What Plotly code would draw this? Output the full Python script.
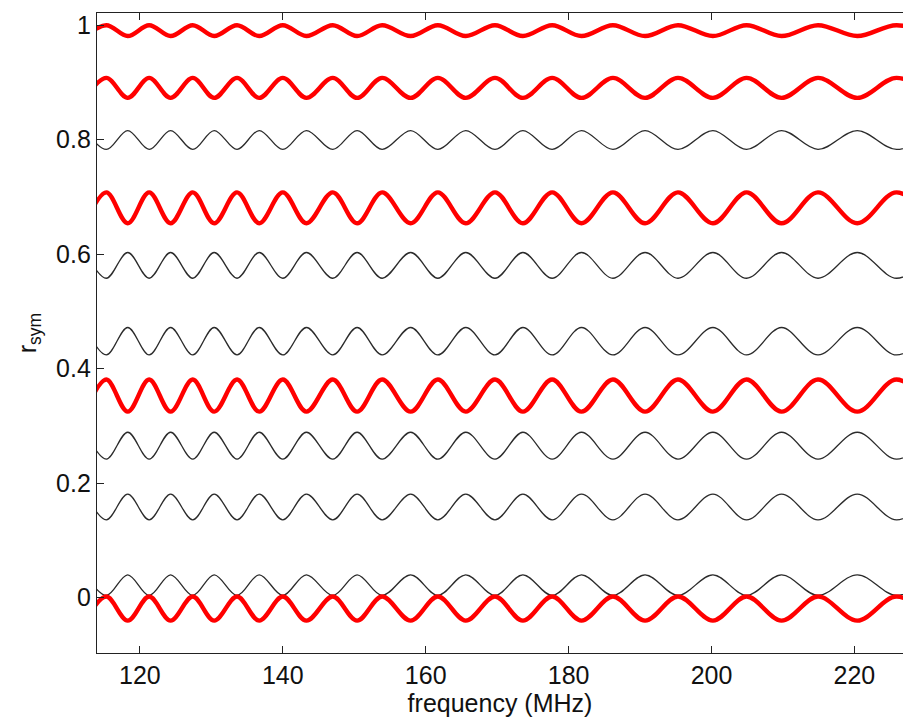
import plotly.graph_objects as go

# Frequencies (MHz) where the ripple turns: alternating minimum / maximum of the red traces
extrema_mhz = [112.4, 115.3, 118.3, 121.3, 124.3, 127.4, 130.4, 133.6, 136.7, 140.0,
               143.3, 147.0, 150.4, 153.9, 157.9, 161.7, 165.6, 169.7, 173.6, 177.7,
               181.8, 186.2, 190.7, 195.3, 200.2, 204.9, 209.8, 214.9, 220.4, 225.9, 231.5]

# Upper / lower levels of each ripple trace
red_high = [1.000, 0.908, 0.708, 0.381, 0.002]
red_low = [0.981, 0.873, 0.654, 0.325, -0.040]
black_high = [0.816, 0.603, 0.472, 0.289, 0.181, 0.040]
black_low = [0.783, 0.558, 0.424, 0.242, 0.136, 0.004]

x_ticks = [120, 140, 160, 180, 200, 220]
y_ticks = [0, 0.2, 0.4, 0.6, 0.8, 1]
y_tick_text = ["0", "0.2", "0.4", "0.6", "0.8", "1"]


def ripple(high, low, starts_low):
    ys = []
    for i in range(len(extrema_mhz)):
        at_low = (i % 2 == 0) == starts_low
        ys.append(low if at_low else high)
    return ys


fig = go.Figure()

# thin dark traces (opposite phase to the red ones)
for hi, lo in zip(black_high, black_low):
    fig.add_trace(go.Scatter(
        x=extrema_mhz, y=ripple(hi, lo, starts_low=False), mode="lines",
        line=dict(color="#2b2b2b", width=1.3, shape="spline", smoothing=1.0),
        showlegend=False, hoverinfo="skip"))

# thick red traces
for hi, lo in zip(red_high, red_low):
    fig.add_trace(go.Scatter(
        x=extrema_mhz, y=ripple(hi, lo, starts_low=True), mode="lines",
        line=dict(color="#ff0000", width=4.4, shape="spline", smoothing=1.0),
        showlegend=False, hoverinfo="skip"))

font_family = "Liberation Sans, Arial, Helvetica, sans-serif"

fig.update_layout(
    width=903, height=721,
    margin=dict(l=97, r=0, t=13, b=68),
    paper_bgcolor="white", plot_bgcolor="white",
    font=dict(family=font_family, size=25, color="#111111"),
)

fig.update_xaxes(
    range=[114.0, 226.8], tickvals=x_ticks, ticktext=[str(v) for v in x_ticks],
    ticks="inside", ticklen=7, tickwidth=1, tickcolor="#222222",
    showline=True, linecolor="#222222", linewidth=1.3, mirror="ticks",
    showgrid=False, zeroline=False,
    title=dict(text="frequency (MHz)", font=dict(size=25), standoff=5),
)
fig.update_yaxes(
    range=[-0.0966, 1.0213], tickvals=y_ticks, ticktext=y_tick_text,
    ticks="inside", ticklen=7, tickwidth=1, tickcolor="#222222",
    showline=True, linecolor="#222222", linewidth=1.3, mirror=False,
    showgrid=False, zeroline=False,
    title=dict(text="r<sub>sym</sub>", font=dict(size=25), standoff=12),
)

fig.write_html("out.html")
